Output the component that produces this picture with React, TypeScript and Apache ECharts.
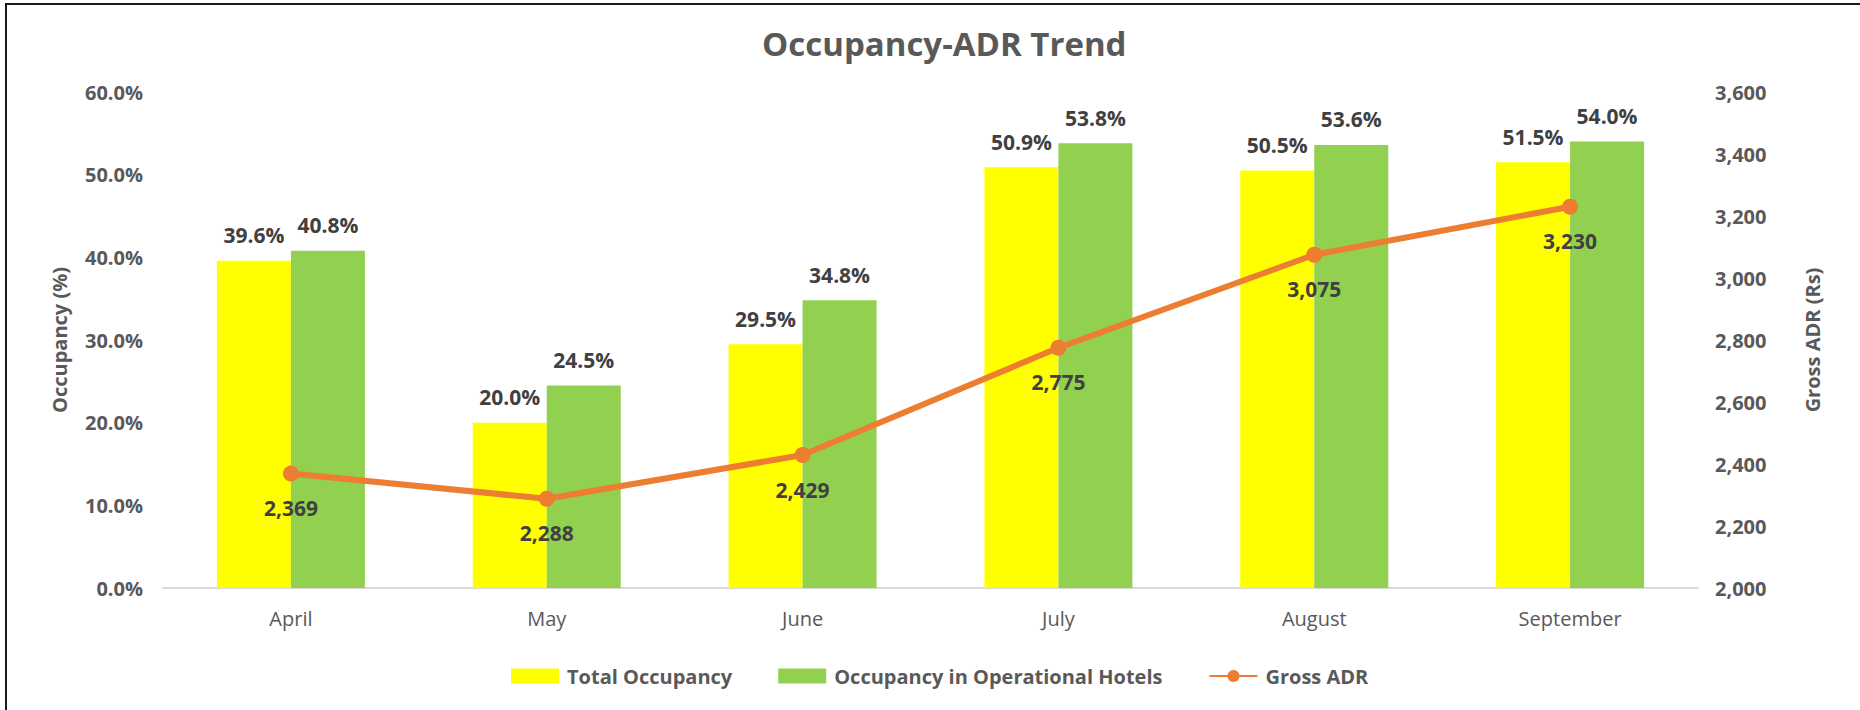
import React, { useEffect, useRef } from "react";
import * as echarts from "echarts";

const months = ["April", "May", "June", "July", "August", "September"];
const totalOccupancy = [39.6, 20.0, 29.5, 50.9, 50.5, 51.5];
const operationalOccupancy = [40.8, 24.5, 34.8, 53.8, 53.6, 54.0];
const grossADR = [2369, 2288, 2429, 2775, 3075, 3230];

const FONT = "'Open Sans', 'Noto Sans', sans-serif";
const AXIS_COLOR = "#595959";
const LABEL_COLOR = "#404040";

export default function App() {
  const ref = useRef<HTMLDivElement>(null);

  useEffect(() => {
    if (!ref.current) return;
    const chart = echarts.init(ref.current, null, { renderer: "svg" });
    chart.setOption({
      animation: false,
      backgroundColor: "#ffffff",
      textStyle: { fontFamily: FONT },
      title: {
        text: "Occupancy-ADR Trend",
        left: 757,
        top: 22,
        textStyle: { fontFamily: FONT, fontSize: 33, fontWeight: "bold", color: AXIS_COLOR },
      },
      legend: {
        left: 506,
        top: 661,
        itemWidth: 48,
        itemHeight: 15,
        itemGap: 46,
        textStyle: {
          fontFamily: FONT,
          fontSize: 20,
          fontWeight: "bold",
          color: AXIS_COLOR,
          padding: [0, 0, 0, 3],
        },
        data: [
          { name: "Total Occupancy", icon: "rect" },
          { name: "Occupancy in Operational Hotels", icon: "rect" },
          { name: "Gross ADR" },
        ],
      },
      grid: { left: 163, right: 162, top: 92, bottom: 122, containLabel: false },
      xAxis: {
        type: "category",
        data: months,
        axisLine: { show: true, lineStyle: { color: "#D9D9D9", width: 2 } },
        axisTick: { show: false },
        axisLabel: { fontFamily: FONT, fontSize: 20, color: AXIS_COLOR, margin: 20 },
      },
      yAxis: [
        {
          type: "value",
          min: 0,
          max: 60,
          interval: 10,
          name: "Occupancy (%)",
          nameLocation: "middle",
          nameGap: 94,
          nameTextStyle: { fontFamily: FONT, fontSize: 20, fontWeight: "bold", color: AXIS_COLOR },
          axisLine: { show: false },
          axisTick: { show: false },
          splitLine: { show: false },
          axisLabel: {
            fontFamily: FONT,
            fontSize: 20,
            fontWeight: "bold",
            color: AXIS_COLOR,
            margin: 20,
            formatter: (v: number) => v.toFixed(1) + "%",
          },
        },
        {
          type: "value",
          min: 2000,
          max: 3600,
          interval: 200,
          name: "Gross ADR (Rs)",
          nameLocation: "middle",
          nameGap: 104,
          nameTextStyle: { fontFamily: FONT, fontSize: 20, fontWeight: "bold", color: AXIS_COLOR },
          axisLine: { show: false },
          axisTick: { show: false },
          splitLine: { show: false },
          axisLabel: {
            fontFamily: FONT,
            fontSize: 20,
            fontWeight: "bold",
            color: AXIS_COLOR,
            margin: 17,
            formatter: (v: number) => v.toLocaleString("en-US"),
          },
        },
      ],
      series: [
        {
          name: "Total Occupancy",
          type: "bar",
          yAxisIndex: 0,
          data: totalOccupancy,
          barWidth: 74,
          barGap: "0%",
          itemStyle: { color: "#FFFF00" },
          label: {
            show: true,
            position: "top",
            distance: 15,
            fontFamily: FONT,
            fontSize: 21,
            fontWeight: "bold",
            color: LABEL_COLOR,
            formatter: (p: any) => p.value.toFixed(1) + "%",
          },
        },
        {
          name: "Occupancy in Operational Hotels",
          type: "bar",
          yAxisIndex: 0,
          data: operationalOccupancy,
          barWidth: 74,
          barGap: "0%",
          itemStyle: { color: "#92D050" },
          label: {
            show: true,
            position: "top",
            distance: 15,
            fontFamily: FONT,
            fontSize: 21,
            fontWeight: "bold",
            color: LABEL_COLOR,
            formatter: (p: any) => p.value.toFixed(1) + "%",
          },
        },
        {
          name: "Gross ADR",
          type: "line",
          yAxisIndex: 1,
          data: grossADR,
          symbol: "circle",
          symbolSize: 16,
          lineStyle: { color: "#ED7D31", width: 6 },
          itemStyle: { color: "#ED7D31" },
          z: 5,
          label: {
            show: true,
            position: "bottom",
            distance: 16,
            fontFamily: FONT,
            fontSize: 21,
            fontWeight: "bold",
            color: LABEL_COLOR,
            formatter: (p: any) => p.value.toLocaleString("en-US"),
          },
        },
      ],
      graphic: [
        {
          type: "line",
          shape: { x1: 5, y1: 4, x2: 1860, y2: 4 },
          style: { stroke: "#1a1a1a", lineWidth: 2 },
        },
        {
          type: "line",
          shape: { x1: 6, y1: 3, x2: 6, y2: 710 },
          style: { stroke: "#1a1a1a", lineWidth: 2 },
        },
      ],
    });
    return () => chart.dispose();
  }, []);

  return (
    <div
      ref={ref}
      style={{ position: "fixed", left: 0, top: 0, width: 1860, height: 710 }}
    />
  );
}
